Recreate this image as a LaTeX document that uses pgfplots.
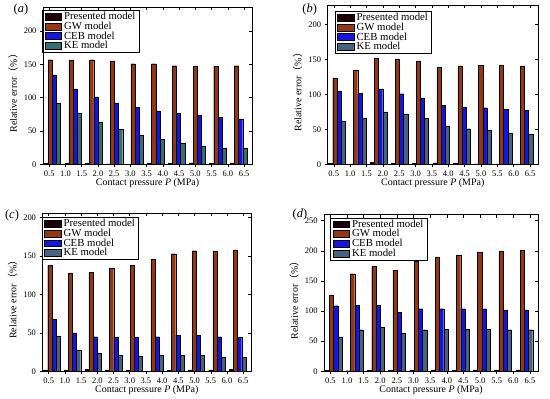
\documentclass[border=0pt]{standalone}
\usepackage{fontspec}
\setmainfont{Liberation Serif}
\newfontfamily\cjk{Noto Sans CJK SC}
\usepackage{pgfplots}
\usepackage{pgfplotstable}
\pgfplotsset{compat=1.18}

\definecolor{cPres}{RGB}{30,0,10}
\definecolor{cGW}{RGB}{150,55,15}
\definecolor{cCEB}{RGB}{20,20,230}
\definecolor{cKEa}{RGB}{50,112,118}
\definecolor{cKE}{RGB}{70,100,130}

\pgfplotstableread{
g pres gw ceb ke
1 1.5 157 134 91
2 1.2 156 113 77
3 1.5 157 101 63
4 0.5 155 92 52
5 0.3 151 85 43
6 1.0 151 80 37
7 1.0 148 76 32
8 2.0 147 73 27
9 1.5 147 70 24
10 2.0 148 68 24
}\dataA
\pgfplotstableread{
g pres gw ceb ke
1 1.0 123 105 62
2 0.5 135 102 66
3 3.0 152 108 75
4 1.0 151 101 72
5 1.0 148 95 66
6 2.0 139 84 55
7 1.5 141 82 51
8 0.5 142 81 49
9 0.5 142 79 45
10 0.5 141 77 43
}\dataB
\pgfplotstableread{
g pres gw ceb ke
1 2.0 138 68 46
2 2.0 128 50 28
3 2.5 129 45 23
4 2.0 134 44 21
5 1.0 138 44 20
6 0.3 146 45 21
7 1.5 153 47 21
8 2.0 157 47 21
9 2.0 156 45 18
10 2.5 158 44 18
}\dataC
\pgfplotstableread{
g pres gw ceb ke
1 1.5 127 109 57
2 1.0 162 110 69
3 2.0 174 110 73
4 1.5 168 98 64
5 2.0 183 104 69
6 2.5 189 104 70
7 2.0 193 104 70
8 2.5 198 104 70
9 2.5 199 102 69
10 2.5 201 102 69
}\dataD

\newcommand{\fs}{\fontsize{8.5}{10}\selectfont}
\newcommand{\lgf}{\fontsize{10.8}{11}\selectfont}

\pgfplotsset{
  frame/.style={
    scale only axis,
    xmin=0.55, xmax=10.65, ymin=0,
    xtick={0.85,1.635,2.42,3.205,3.99,4.775,5.56,6.345,7.13,7.915,8.7,9.485,10.27},
    ytick distance=50,
    major tick length=3bp,
    axis line style={line width=0.5pt},
    every tick/.style={black, line width=0.5pt},
  },
  panel/.style={
    frame,
    xtick pos=left, ytick pos=left, tick align=outside,
    xticklabels={0.5,1.0,1.5,2.0,2.5,3.0,3.5,4.0,4.5,5.0,5.5,6.0,6.5},
    /pgf/number format/assume math mode=true,
    tick label style={font=\fs},
    label style={font=\fs},
    ybar, bar width=0.2,
    xlabel={Contact pressure \textit{P} (MPa)},
    ylabel={Relative error{\cjk （}\%{\cjk ）}},
    every axis x label/.style={at={(axis description cs:0.5,0)}, anchor=center, yshift=-19bp},
    every axis y label/.style={at={(axis description cs:0,0.5)}, anchor=center, xshift=-30bp, yshift=-5bp, rotate=90},
    legend style={draw=black, line width=0.5pt, fill=white, font=\lgf,
      anchor=north west, inner xsep=2.5bp, inner ysep=0.8bp, row sep=-1.2bp, column sep=1.5bp,
      nodes={inner sep=1bp, font=\lgf}, cells={anchor=west}},
    legend cell align=left,
  },
  over/.style={
    frame,
    xtick pos=right, ytick pos=right, tick align=inside,
    xticklabels={}, yticklabels={},
  },
  bars/.style={fill=#1, draw=black, line width=0.3pt,
    legend image code/.code={\draw[fill=#1, draw=black, line width=0.3pt] (0bp,-3.4bp) rectangle (16.5bp,3.4bp);}},
}

\begin{document}
\begin{tikzpicture}[x=1bp,y=1bp]
\path[use as bounding box] (0,0) rectangle (550,398);

% (a)
\begin{axis}[panel, at={(43bp,233.7bp)}, anchor=south west, width=209bp, height=157.3bp, ymax=236,
  legend style={at={(axis description cs:0,1)}, xshift=-1bp, yshift=-3bp}]
\addplot[bars=cPres, bar shift=-0.3] table[x=g,y=pres]{\dataA};
\addplot[bars=cGW, bar shift=-0.1] table[x=g,y=gw]{\dataA};
\addplot[bars=cCEB, bar shift=0.1] table[x=g,y=ceb]{\dataA};
\addplot[bars=cKEa, bar shift=0.3] table[x=g,y=ke]{\dataA};
\legend{Presented model, GW model, CEB model, KE model}
\end{axis}
\begin{axis}[over, at={(43bp,233.7bp)}, anchor=south west, width=209bp, height=157.3bp, ymax=236]
\end{axis}

% (b)
\begin{axis}[panel, at={(327.5bp,233.7bp)}, anchor=south west, width=210.5bp, height=159.3bp, ymax=228,
  legend style={at={(axis description cs:0,1)}, xshift=7bp, yshift=-6bp}]
\addplot[bars=cPres, bar shift=-0.3] table[x=g,y=pres]{\dataB};
\addplot[bars=cGW, bar shift=-0.1] table[x=g,y=gw]{\dataB};
\addplot[bars=cCEB, bar shift=0.1] table[x=g,y=ceb]{\dataB};
\addplot[bars=cKE, bar shift=0.3] table[x=g,y=ke]{\dataB};
\legend{Presented model, GW model, CEB model, KE model}
\end{axis}
\begin{axis}[over, at={(327.5bp,233.7bp)}, anchor=south west, width=210.5bp, height=159.3bp, ymax=228]
\end{axis}

% (c)
\begin{axis}[panel, at={(42.5bp,26.7bp)}, anchor=south west, width=208.5bp, height=158.3bp, ymax=206,
  legend style={at={(axis description cs:0,1)}, xshift=-1bp, yshift=-4bp}]
\addplot[bars=cPres, bar shift=-0.3] table[x=g,y=pres]{\dataC};
\addplot[bars=cGW, bar shift=-0.1] table[x=g,y=gw]{\dataC};
\addplot[bars=cCEB, bar shift=0.1] table[x=g,y=ceb]{\dataC};
\addplot[bars=cKE, bar shift=0.3] table[x=g,y=ke]{\dataC};
\legend{Presented model, GW model, CEB model, KE model}
\end{axis}
\begin{axis}[over, at={(42.5bp,26.7bp)}, anchor=south west, width=208.5bp, height=158.3bp, ymax=206]
\end{axis}

% (d)
\begin{axis}[panel, at={(324bp,26.7bp)}, anchor=south west, width=214bp, height=156.6bp, ymax=260,
  legend style={at={(axis description cs:0,1)}, xshift=6bp, yshift=-3bp}]
\addplot[bars=cPres, bar shift=-0.3] table[x=g,y=pres]{\dataD};
\addplot[bars=cGW, bar shift=-0.1] table[x=g,y=gw]{\dataD};
\addplot[bars=cCEB, bar shift=0.1] table[x=g,y=ceb]{\dataD};
\addplot[bars=cKE, bar shift=0.3] table[x=g,y=ke]{\dataD};
\legend{Presented model, GW model, CEB model, KE model}
\end{axis}
\begin{axis}[over, at={(324bp,26.7bp)}, anchor=south west, width=214bp, height=156.6bp, ymax=260]
\end{axis}

\node[font=\fontsize{12.5}{14}\selectfont] at (21,388) {(\textit{a})};
\node[font=\fontsize{12.5}{14}\selectfont] at (309.7,388) {(\textit{b})};
\node[font=\fontsize{12.5}{14}\selectfont] at (12,182) {(\textit{c})};
\node[font=\fontsize{12.5}{14}\selectfont] at (300,183) {(\textit{d})};
\end{tikzpicture}
\end{document}
